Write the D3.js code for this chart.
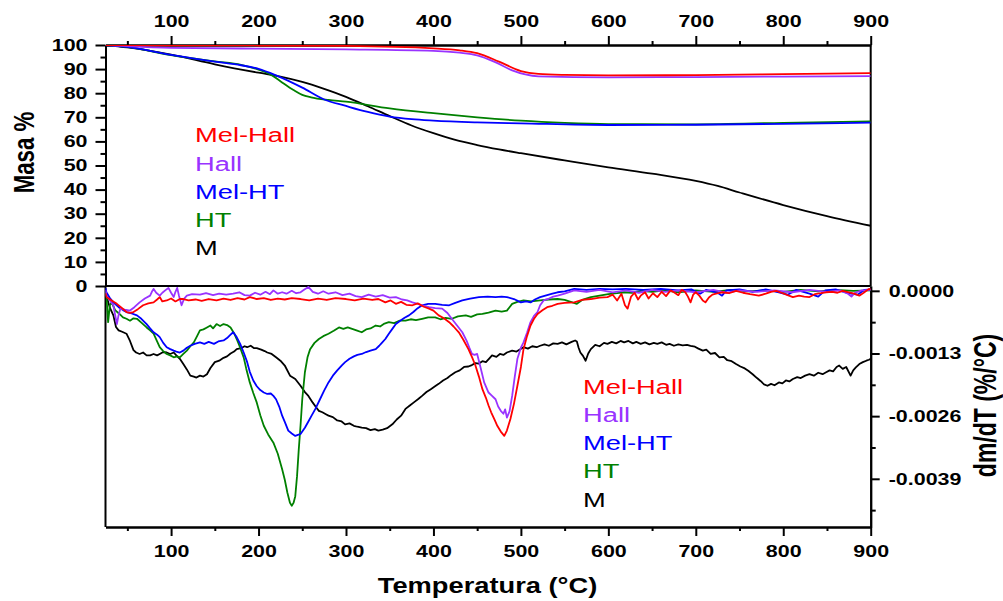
<!DOCTYPE html>
<html>
<head>
<meta charset="utf-8">
<script src="https://cdn.jsdelivr.net/npm/d3@7"></script>
<style>
  body { margin: 0; background: #fff; }
  text { font-family: "Liberation Sans", Arial, sans-serif; }
</style>
</head>
<body>
<script>
// series labels and colours
const seriesNames = ["Mel-Hall", "Hall", "Mel-HT", "HT", "M"]
const seriesColors = ["#ff0000", "#9933ff", "#0000ff", "#008000", "#000000"]

// TGA: [temperature °C, mass %]
const tgaMelHall = [[25,100],[100,99.9],[200,99.8],[300,99.6],[400,98.6],[430,97.8],[450,96.6],[475,93.1],[500,89.2],[520,88],[550,87.6],[600,87.4],[700,87.5],[800,87.9],[900,88.3]]
const tgaHall = [[25,100],[50,99.5],[100,98.8],[200,98.5],[300,98.2],[400,97.6],[430,96.8],[450,95.7],[470,93],[490,89.5],[505,87.8],[520,87],[600,86.6],[700,86.7],[800,86.9],[900,87.1]]
const tgaMelHT = [[25,100],[50,99.2],[100,95.9],[150,93.1],[180,91.6],[200,90.1],[220,87.4],[250,82.3],[275,77.4],[300,74.7],[325,72.2],[350,70.3],[375,69.2],[400,68.6],[450,67.9],[500,67.5],[600,66.8],[700,66.9],[800,67.3],[900,67.8]]
const tgaHT = [[25,100],[50,99.2],[100,95.8],[150,93.2],[180,91.8],[200,89.8],[215,87.5],[225,85],[240,81.3],[250,79.3],[260,78.3],[280,77.2],[300,76.5],[350,73.7],[400,71.7],[450,70],[500,68.6],[550,67.7],[600,67.2],[700,67.1],[800,67.7],[900,68.3]]
const tgaM = [[25,100],[50,99],[100,96],[150,92],[200,88.5],[225,86.9],[250,84.7],[275,81.8],[300,78.5],[325,74.6],[350,70.5],[375,66.6],[400,63.4],[425,60.6],[450,58.5],[475,56.7],[500,55.1],[550,52.1],[600,49.2],[650,46.6],[700,43.6],[725,41.5],[750,38.8],[800,33.6],[850,29],[900,25]]

// DTG: [temperature °C, dm/dT %/°C]
const dtgMelHall = [[25,-0.00005],[26,-0.00013],[32,-0.00020],[38,-0.00027],[44,-0.00036],[49,-0.00044],[53,-0.00046],[57,-0.00044],[62,-0.00038],[68,-0.00030],[74,-0.00026],[80,-0.00024],[84,-0.00018],[87,-0.00013],[90,-0.00022],[95,-0.00020],[100,-0.00016],[105,-0.00022],[110,-0.00017],[114,-0.00017],[120,-0.00020],[128,-0.00018],[135,-0.00021],[143,-0.00017],[152,-0.00020],[160,-0.00016],[168,-0.00019],[176,-0.00015],[184,-0.00018],[190,-0.00013],[198,-0.00017],[206,-0.00015],[214,-0.00019],[222,-0.00016],[230,-0.00018],[238,-0.00015],[248,-0.00017],[258,-0.00020],[268,-0.00016],[278,-0.00019],[288,-0.00015],[300,-0.00017],[310,-0.00020],[320,-0.00016],[330,-0.00019],[337,-0.00017],[345,-0.00024],[351,-0.00020],[357,-0.00027],[363,-0.00023],[369,-0.00029],[376,-0.00030],[382,-0.00026],[389,-0.00033],[395,-0.00037],[400,-0.00041],[406,-0.00051],[412,-0.00057],[418,-0.00065],[423,-0.00074],[429,-0.00086],[434,-0.00101],[440,-0.00121],[444,-0.00137],[448,-0.00155],[452,-0.00178],[456,-0.00204],[460,-0.00222],[463,-0.00238],[466,-0.00252],[470,-0.00268],[473,-0.00280],[477,-0.00292],[481,-0.00301],[484,-0.00290],[488,-0.00266],[492,-0.00235],[496,-0.00197],[500,-0.00158],[503,-0.00121],[507,-0.00094],[511,-0.00072],[515,-0.00058],[519,-0.00048],[525,-0.00040],[530,-0.00034],[536,-0.00031],[542,-0.00027],[550,-0.00025],[561,-0.00024],[570,-0.00019],[580,-0.00017],[590,-0.00014],[599,-0.00013],[605,-0.00008],[610,-0.00020],[615,-0.00006],[619,-0.00030],[622,-0.00037],[626,-0.00012],[630,-0.00004],[634,-0.00018],[637,-0.00010],[642,-0.00003],[646,-0.00016],[651,-0.00005],[656,-0.00013],[661,-0.00002],[666,-0.00011],[671,0.00001],[675,-0.00003],[680,-0.00009],[684,0.00002],[688,-0.00003],[691,-0.00012],[694,-0.00024],[697,-0.00008],[700,-0.00003],[704,-0.00010],[708,-0.00020],[711,-0.00024],[715,-0.00014],[719,-0.00008],[723,-0.00006],[730,-0.00003],[738,-0.00005],[746,0.00000],[754,-0.00004],[762,-0.00007],[772,-0.00010],[780,-0.00006],[786,-0.00002],[792,0.00000],[798,-0.00004],[805,-0.00009],[811,-0.00013],[818,-0.00010],[824,-0.00012],[830,-0.00013],[836,-0.00007],[843,-0.00005],[849,-0.00003],[856,-0.00002],[862,-0.00004],[868,0.00000],[875,-0.00003],[881,-0.00006],[887,-0.00010],[892,-0.00004],[898,0.00004],[900,0.00003]]
const dtgHall = [[25,0.00002],[26,-0.0001],[30,-0.00020],[34,-0.00030],[36,-0.00050],[38,-0.00069],[40,-0.00050],[42,-0.00037],[47,-0.00039],[53,-0.00041],[58,-0.00034],[64,-0.00024],[70,-0.00016],[76,-0.00010],[78,-0.00002],[80,0.00004],[83,-0.00004],[87,-0.00010],[90,-0.00004],[94,0.00002],[97,0.00006],[100,-0.00004],[103,-0.00013],[105,-0.00002],[107,0.00006],[109,-0.00010],[112,-0.00030],[115,-0.00016],[118,-0.00010],[124,-0.00007],[133,-0.00008],[140,-0.00005],[148,-0.00009],[155,-0.00006],[163,-0.00008],[171,-0.00006],[178,-0.00003],[184,-0.00009],[190,-0.00010],[196,-0.00004],[202,-0.00008],[208,-0.00002],[213,-0.00007],[217,0.00001],[222,-0.00006],[227,-0.00003],[232,-0.00006],[238,0.00000],[243,-0.00005],[248,-0.00003],[252,0.00002],[257,0.00008],[262,-0.00002],[268,-0.00006],[274,-0.00001],[280,-0.00006],[288,-0.00003],[296,-0.00009],[304,-0.00006],[311,-0.00011],[318,-0.00013],[326,-0.00008],[334,-0.00012],[342,-0.00009],[350,-0.00014],[357,-0.00013],[364,-0.00018],[370,-0.00020],[376,-0.00024],[382,-0.00027],[389,-0.00031],[395,-0.00034],[402,-0.00036],[410,-0.00037],[416,-0.00046],[421,-0.00058],[427,-0.00072],[433,-0.00086],[438,-0.00104],[441,-0.00118],[444,-0.00131],[447,-0.00133],[450,-0.00131],[454,-0.00160],[458,-0.00190],[463,-0.00211],[467,-0.00218],[471,-0.00225],[474,-0.00240],[477,-0.00249],[480,-0.00255],[482,-0.00246],[484,-0.00263],[487,-0.00250],[490,-0.00218],[493,-0.00178],[496,-0.00141],[500,-0.00118],[503,-0.00107],[507,-0.00087],[511,-0.00065],[515,-0.00052],[519,-0.00044],[522,-0.00030],[526,-0.00020],[532,-0.00016],[537,-0.00012],[542,-0.00010],[550,-0.00006],[561,0.00001],[575,-0.00002],[590,0.00002],[605,-0.00003],[620,0.00001],[635,-0.00004],[650,0.00002],[665,-0.00002],[680,0.00001],[700,-0.00003],[720,0.00002],[735,-0.00004],[750,0.00001],[770,-0.00002],[790,0.00001],[810,-0.00003],[830,0.00002],[850,-0.00002],[865,0.00001],[874,-0.00006],[878,-0.00012],[882,-0.00004],[890,0.00001],[900,0.00002]]
const dtgMelHT = [[25,0.00006],[26,-0.00003],[30,-0.00015],[34,-0.00024],[40,-0.00034],[45,-0.00040],[49,-0.00044],[55,-0.00047],[61,-0.00051],[66,-0.00058],[72,-0.00069],[76,-0.00078],[80,-0.00086],[84,-0.00091],[87,-0.00096],[91,-0.00108],[95,-0.00117],[99,-0.00121],[103,-0.00124],[106,-0.00126],[110,-0.00128],[114,-0.00124],[118,-0.00118],[122,-0.00114],[127,-0.00110],[133,-0.00107],[138,-0.00110],[143,-0.00106],[149,-0.00110],[154,-0.00105],[160,-0.00103],[164,-0.00098],[168,-0.00091],[171,-0.00086],[175,-0.00096],[179,-0.00110],[183,-0.00128],[187,-0.00148],[190,-0.00168],[194,-0.00186],[198,-0.00198],[202,-0.00206],[206,-0.00211],[210,-0.00214],[214,-0.00213],[217,-0.00218],[220,-0.00225],[224,-0.00242],[227,-0.00259],[230,-0.00272],[234,-0.00290],[238,-0.00296],[242,-0.00301],[245,-0.00299],[248,-0.00297],[253,-0.00284],[257,-0.00271],[261,-0.00258],[265,-0.00245],[270,-0.00226],[275,-0.00207],[280,-0.00190],[285,-0.00176],[290,-0.00165],[295,-0.00155],[299,-0.00148],[304,-0.00141],[309,-0.00136],[313,-0.00133],[318,-0.00131],[323,-0.00127],[328,-0.00124],[334,-0.00121],[338,-0.00114],[341,-0.00108],[345,-0.00100],[349,-0.00089],[353,-0.00079],[357,-0.00069],[362,-0.00062],[367,-0.00056],[372,-0.00051],[377,-0.00044],[382,-0.00036],[387,-0.00030],[394,-0.00027],[402,-0.00027],[410,-0.00029],[418,-0.00030],[425,-0.00025],[433,-0.00020],[442,-0.00016],[452,-0.00013],[462,-0.00012],[471,-0.00013],[478,-0.00012],[484,-0.00013],[492,-0.00017],[500,-0.00024],[506,-0.00022],[511,-0.00024],[516,-0.00018],[522,-0.00013],[530,-0.00009],[536,-0.00006],[542,-0.00003],[550,-0.00001],[561,0.00004],[575,0.00002],[590,0.00004],[605,0.00003],[620,0.00004],[640,0.00002],[660,0.00004],[680,0.00001],[695,0.00003],[705,-0.00006],[712,0.00002],[725,-0.00004],[730,-0.00010],[735,0.00001],[750,0.00003],[765,-0.00002],[780,0.00003],[795,-0.00003],[805,-0.00008],[815,0.00002],[830,-0.00006],[840,-0.00012],[848,0.00001],[860,0.00003],[872,-0.00004],[885,-0.00008],[893,0.00002],[900,0.00003]]
const dtgHT = [[25,-0.00002],[26,-0.0001],[28,-0.00065],[30,-0.00030],[32,-0.00024],[36,-0.00040],[41,-0.00048],[45,-0.00055],[49,-0.00058],[53,-0.00062],[57,-0.00057],[61,-0.00058],[66,-0.00066],[72,-0.00076],[76,-0.00082],[80,-0.00089],[84,-0.00105],[87,-0.00117],[91,-0.00125],[95,-0.00131],[99,-0.00134],[103,-0.00138],[107,-0.00136],[110,-0.00138],[114,-0.00131],[118,-0.00124],[122,-0.00115],[126,-0.00107],[130,-0.00093],[133,-0.00082],[137,-0.00080],[141,-0.00076],[145,-0.00072],[148,-0.00078],[152,-0.00069],[156,-0.00073],[160,-0.00069],[164,-0.00071],[168,-0.00076],[172,-0.00088],[175,-0.00100],[179,-0.00118],[183,-0.00138],[186,-0.00162],[190,-0.00190],[194,-0.00212],[198,-0.00232],[202,-0.00258],[206,-0.00280],[211,-0.00298],[217,-0.00315],[222,-0.00338],[227,-0.00370],[230,-0.00392],[233,-0.00419],[236,-0.00440],[238,-0.00446],[240,-0.00440],[242,-0.00426],[244,-0.00385],[246,-0.00329],[248,-0.00280],[250,-0.00225],[253,-0.00169],[256,-0.00138],[259,-0.00121],[264,-0.00108],[269,-0.00100],[274,-0.00094],[280,-0.00089],[286,-0.00083],[292,-0.00076],[297,-0.00079],[302,-0.00076],[307,-0.00079],[312,-0.00082],[318,-0.00086],[323,-0.00080],[328,-0.00078],[334,-0.00072],[339,-0.00074],[344,-0.00068],[349,-0.00065],[355,-0.00067],[361,-0.00062],[368,-0.00062],[374,-0.00059],[380,-0.00061],[387,-0.00058],[394,-0.00055],[402,-0.00055],[408,-0.00059],[414,-0.00056],[421,-0.00058],[428,-0.00053],[437,-0.00051],[443,-0.00054],[450,-0.00049],[456,-0.00048],[463,-0.00045],[471,-0.00041],[478,-0.00043],[484,-0.00041],[487,-0.00034],[490,-0.00027],[496,-0.00023],[503,-0.00020],[512,-0.00022],[522,-0.00020],[532,-0.00018],[542,-0.00017],[550,-0.00019],[557,-0.00023],[564,-0.00027],[570,-0.00019],[580,-0.00013],[590,-0.00010],[600,-0.00007],[610,-0.00005],[618,-0.00003],[627,-0.00004],[637,0.00000],[650,-0.00002],[665,0.00001],[680,-0.00003],[700,0.00001],[720,-0.00002],[740,0.00002],[760,-0.00001],[780,0.00001],[800,-0.00002],[820,0.00002],[840,-0.00001],[860,0.00002],[880,0.00000],[900,0.00001]]
const dtgM = [[25,-0.00005],[26,-0.0001],[30,-0.00035],[34,-0.00051],[37,-0.00075],[40,-0.00082],[44,-0.00085],[49,-0.00089],[53,-0.00104],[57,-0.00123],[60,-0.00128],[64,-0.00131],[68,-0.00128],[72,-0.00134],[76,-0.00134],[80,-0.00131],[84,-0.00134],[87,-0.00131],[91,-0.00127],[95,-0.00128],[99,-0.00131],[103,-0.00128],[106,-0.00134],[110,-0.00141],[114,-0.00152],[118,-0.00163],[122,-0.00176],[126,-0.00178],[129,-0.00180],[133,-0.00176],[137,-0.00178],[141,-0.00173],[145,-0.00160],[150,-0.00148],[155,-0.00145],[160,-0.00139],[164,-0.00136],[168,-0.00130],[172,-0.00126],[175,-0.00121],[180,-0.00119],[184,-0.00115],[187,-0.00117],[191,-0.00114],[195,-0.00119],[198,-0.00119],[203,-0.00122],[207,-0.00125],[210,-0.00128],[215,-0.00131],[220,-0.00138],[225,-0.00145],[230,-0.00155],[236,-0.00176],[242,-0.00183],[248,-0.00197],[253,-0.00210],[257,-0.00218],[262,-0.00232],[266,-0.00242],[269,-0.00249],[273,-0.00252],[277,-0.00256],[280,-0.00259],[285,-0.00262],[290,-0.00269],[295,-0.00271],[299,-0.00277],[304,-0.00275],[309,-0.00280],[313,-0.00282],[318,-0.00284],[323,-0.00285],[328,-0.00289],[333,-0.00287],[337,-0.00290],[342,-0.00288],[347,-0.00285],[353,-0.00277],[358,-0.00267],[363,-0.00259],[368,-0.00245],[373,-0.00238],[378,-0.00231],[383,-0.00224],[387,-0.00218],[392,-0.00210],[397,-0.00204],[401,-0.00199],[406,-0.00193],[411,-0.00186],[416,-0.00181],[420,-0.00175],[425,-0.00169],[430,-0.00165],[435,-0.00158],[440,-0.00157],[444,-0.00154],[448,-0.00150],[452,-0.00151],[456,-0.00146],[460,-0.00148],[464,-0.00140],[467,-0.00134],[472,-0.00137],[476,-0.00131],[480,-0.00133],[484,-0.00128],[490,-0.00124],[495,-0.00126],[503,-0.00117],[508,-0.00120],[513,-0.00115],[518,-0.00117],[522,-0.00114],[527,-0.00111],[532,-0.00114],[537,-0.00109],[542,-0.00110],[547,-0.00107],[552,-0.00111],[558,-0.00106],[562,-0.00103],[564,-0.00105],[566,-0.00118],[568,-0.00128],[571,-0.00135],[574,-0.00145],[577,-0.00130],[580,-0.00121],[585,-0.00112],[590,-0.00115],[595,-0.00108],[599,-0.00110],[604,-0.00106],[609,-0.00109],[614,-0.00104],[618,-0.00107],[623,-0.00104],[628,-0.00109],[632,-0.00106],[637,-0.00110],[642,-0.00107],[647,-0.00111],[652,-0.00108],[656,-0.00110],[661,-0.00107],[666,-0.00112],[670,-0.00110],[675,-0.00114],[680,-0.00111],[685,-0.00113],[690,-0.00112],[694,-0.00114],[699,-0.00116],[703,-0.00120],[708,-0.00124],[712,-0.00122],[717,-0.00131],[722,-0.00129],[727,-0.00138],[732,-0.00137],[736,-0.00144],[741,-0.00146],[746,-0.00152],[751,-0.00157],[756,-0.00161],[760,-0.00166],[765,-0.00173],[770,-0.00181],[774,-0.00187],[778,-0.00194],[782,-0.00197],[786,-0.00193],[790,-0.00196],[795,-0.00190],[799,-0.00192],[803,-0.00186],[807,-0.00188],[811,-0.00183],[816,-0.00179],[820,-0.00181],[825,-0.00176],[830,-0.00173],[835,-0.00176],[840,-0.00170],[845,-0.00173],[849,-0.00169],[853,-0.00165],[857,-0.00167],[861,-0.00158],[864,-0.00155],[868,-0.00162],[872,-0.00158],[877,-0.00176],[880,-0.00165],[883,-0.00159],[887,-0.00152],[891,-0.00148],[895,-0.00145],[898,-0.00143],[900,-0.00141]]

// tick values
const tempTicks = [100, 200, 300, 400, 500, 600, 700, 800, 900]
const tempMinor = [50, 150, 250, 350, 450, 550, 650, 750, 850]
const massTicks = [0, 10, 20, 30, 40, 50, 60, 70, 80, 90, 100]
const massMinor = [5, 15, 25, 35, 45, 55, 65, 75, 85, 95]
const rateTicks = [0, -0.0013, -0.0026, -0.0039]
const rateMinor = [-0.00065, -0.00195, -0.00325, -0.00455]

const tgaSeries = [tgaMelHall, tgaHall, tgaMelHT, tgaHT, tgaM]
const dtgSeries = [dtgMelHall, dtgHall, dtgMelHT, dtgHT, dtgM]

const w = 1003
const h = 601
const sx = 1.3   // horizontal stretch of lettering

const x = d3.scaleLinear().domain([25, 900]).range([105.5, 870.7])
const yMass = d3.scaleLinear().domain([0, 100]).range([286, 45])
const yRate = d3.scaleLinear().domain([-0.0049, 0.0001]).range([527, 286])

const svg = d3.select('body')
    .append('svg')
    .attr('width', w)
    .attr('height', h)

svg.append('rect').attr('width', w).attr('height', h).attr('fill', '#fff')

const stretchLabels = (g, fontSize) => {
    g.selectAll('.tick text')
        .attr('font-size', fontSize)
        .attr('font-weight', 'bold')
        .attr('fill', '#000')
        .attr('transform', `scale(${sx},1)`)
        .attr('x', function () { return +d3.select(this).attr('x') / sx })
    g.selectAll('line, path').attr('stroke', '#000').attr('stroke-width', 2)
}

// top temperature axis
const gTop = svg.append('g').attr('transform', 'translate(0,45)')
gTop.call(d3.axisTop(x).tickValues(tempTicks).tickSize(9).tickSizeOuter(0).tickPadding(9))
gTop.append('g').call(d3.axisTop(x).tickValues(tempMinor).tickSize(4).tickSizeOuter(0).tickFormat(''))
stretchLabels(gTop, 16.5)

// bottom temperature axis
const gBot = svg.append('g').attr('transform', 'translate(0,527)')
gBot.call(d3.axisBottom(x).tickValues(tempTicks).tickSize(9).tickSizeOuter(0).tickPadding(9))
gBot.append('g').call(d3.axisBottom(x).tickValues(tempMinor).tickSize(4).tickSizeOuter(0).tickFormat(''))
stretchLabels(gBot, 16.5)

// mass axis
const gMass = svg.append('g').attr('transform', 'translate(105.5,0)')
gMass.call(d3.axisLeft(yMass).tickValues(massTicks).tickSize(10).tickSizeOuter(0).tickPadding(8))
gMass.append('g').call(d3.axisLeft(yMass).tickValues(massMinor).tickSize(5).tickSizeOuter(0).tickFormat(''))
stretchLabels(gMass, 16.5)

// rate axis
const fmtRate = d => d === 0 ? '0.0000' : '-' + Math.abs(d).toFixed(4)
const gRate = svg.append('g').attr('transform', 'translate(870.7,0)')
gRate.call(d3.axisRight(yRate).tickValues(rateTicks).tickSize(9).tickSizeOuter(0).tickPadding(9).tickFormat(fmtRate))
gRate.append('g').call(d3.axisRight(yRate).tickValues(rateMinor).tickSize(5).tickSizeOuter(0).tickFormat(''))
stretchLabels(gRate, 16.5)

// remaining frame lines
const frame = svg.append('g').attr('stroke', '#000').attr('stroke-width', 2)
frame.append('line').attr('x1', x(25)).attr('x2', x(25)).attr('y1', yRate.range()[1]).attr('y2', yRate.range()[0])
frame.append('line').attr('x1', x(900)).attr('x2', x(900)).attr('y1', yMass.range()[1]).attr('y2', yMass.range()[0])
frame.append('line').attr('x1', x(25)).attr('x2', x(900)).attr('y1', yMass(0)).attr('y2', yMass(0))

// clip regions for each panel
const defs = svg.append('defs')
defs.append('clipPath').attr('id', 'clipTop')
    .append('rect').attr('x', x(25)).attr('y', yMass(100)).attr('width', x(900) - x(25)).attr('height', yMass(0) - yMass(100))
defs.append('clipPath').attr('id', 'clipBot')
    .append('rect').attr('x', x(25)).attr('y', yRate(0.0001)).attr('width', x(900) - x(25)).attr('height', yRate(-0.0049) - yRate(0.0001))

const lineMass = d3.line().x(d => x(d[0])).y(d => yMass(d[1])).curve(d3.curveMonotoneX)
const lineRate = d3.line().x(d => x(d[0])).y(d => yRate(d[1]))

const order = [4, 3, 2, 1, 0]

svg.append('g').attr('clip-path', 'url(#clipTop)')
    .selectAll('path')
    .data(order)
    .enter()
    .append('path')
    .attr('d', i => lineMass(tgaSeries[i]))
    .attr('fill', 'none')
    .attr('stroke', i => seriesColors[i])
    .attr('stroke-width', 1.8)

svg.append('g').attr('clip-path', 'url(#clipBot)')
    .selectAll('path')
    .data(order)
    .enter()
    .append('path')
    .attr('d', i => lineRate(dtgSeries[i]))
    .attr('fill', 'none')
    .attr('stroke', i => seriesColors[i])
    .attr('stroke-width', 1.8)
    .attr('stroke-linejoin', 'round')

// legends
const drawLegend = (left, top) => {
    svg.append('g')
        .selectAll('text')
        .data(seriesNames)
        .enter()
        .append('text')
        .attr('transform', (d, i) => `translate(${left},${top + i * 28.25}) scale(${sx},1)`)
        .attr('font-size', 21)
        .attr('fill', (d, i) => seriesColors[i])
        .text(d => d)
}
drawLegend(195, 142.3)
drawLegend(583, 393.7)

// axis titles
svg.append('text')
    .attr('transform', `translate(487.5,593) scale(1.24,1)`)
    .attr('text-anchor', 'middle')
    .attr('font-size', 22)
    .attr('font-weight', 'bold')
    .text('Temperatura (°C)')

svg.append('text')
    .attr('transform', `translate(34,152.5) scale(1.33,1) rotate(-90)`)
    .attr('text-anchor', 'middle')
    .attr('font-size', 22.3)
    .attr('font-weight', 'bold')
    .text('Masa %')

svg.append('text')
    .attr('transform', `translate(995.6,405.5) scale(1.33,1) rotate(-90)`)
    .attr('text-anchor', 'middle')
    .attr('font-size', 23)
    .attr('font-weight', 'bold')
    .text('dm/dT (%/°C)')
</script>
</body>
</html>
